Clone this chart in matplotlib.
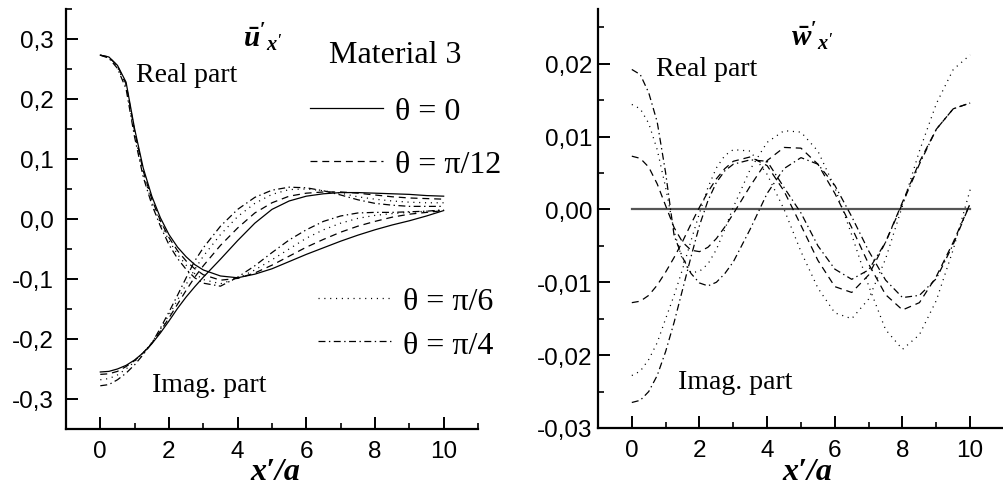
import matplotlib
matplotlib.use("Agg")
import matplotlib.pyplot as plt
from matplotlib.ticker import MultipleLocator, FuncFormatter

# Data
x = [0, 0.25, 0.5, 0.75, 1, 1.25, 1.5, 1.75, 2, 2.25, 2.5, 2.75, 3,
     3.5, 4, 4.5, 5, 5.5, 6, 6.5, 7, 7.5, 8, 8.5, 9, 9.5, 10]

theta_labels = ["θ = 0", "θ = π/12", "θ = π/6", "θ = π/4"]

# left panel: u'_x'
u_re_0 = [0.273, 0.270, 0.256, 0.228, 0.150, 0.085, 0.038, 0.002, -0.026, -0.047, -0.063, -0.076, -0.085,
          -0.095, -0.098, -0.092, -0.083, -0.071, -0.059, -0.048, -0.037, -0.027, -0.018, -0.010, -0.003, 0.005, 0.014]
u_re_12 = [0.273, 0.270, 0.255, 0.225, 0.146, 0.080, 0.033, -0.003, -0.031, -0.053, -0.070, -0.083, -0.093,
           -0.102, -0.099, -0.090, -0.077, -0.062, -0.047, -0.034, -0.022, -0.012, -0.004, 0.003, 0.008, 0.011, 0.014]
u_re_6 = [0.273, 0.269, 0.253, 0.221, 0.141, 0.075, 0.029, -0.007, -0.036, -0.059, -0.077, -0.091, -0.101,
          -0.108, -0.099, -0.085, -0.068, -0.050, -0.032, -0.018, -0.007, 0.001, 0.006, 0.009, 0.011, 0.013, 0.015]
u_re_4 = [0.273, 0.268, 0.251, 0.217, 0.136, 0.070, 0.024, -0.012, -0.043, -0.066, -0.084, -0.098, -0.107,
          -0.112, -0.097, -0.078, -0.056, -0.035, -0.018, -0.004, 0.005, 0.010, 0.011, 0.011, 0.012, 0.013, 0.015]

u_im_0 = [-0.255, -0.254, -0.250, -0.244, -0.235, -0.223, -0.208, -0.190, -0.170, -0.149, -0.130, -0.113, -0.097,
          -0.067, -0.036, -0.007, 0.016, 0.030, 0.038, 0.042, 0.044, 0.044, 0.043, 0.042, 0.041, 0.039, 0.038]
u_im_12 = [-0.259, -0.258, -0.254, -0.246, -0.236, -0.223, -0.207, -0.187, -0.165, -0.142, -0.119, -0.097, -0.078,
           -0.044, -0.015, 0.010, 0.027, 0.038, 0.043, 0.045, 0.045, 0.043, 0.040, 0.037, 0.035, 0.034, 0.033]
u_im_6 = [-0.268, -0.266, -0.260, -0.250, -0.238, -0.223, -0.206, -0.184, -0.160, -0.135, -0.109, -0.084, -0.062,
          -0.026, 0.004, 0.026, 0.041, 0.049, 0.050, 0.047, 0.043, 0.037, 0.033, 0.030, 0.028, 0.027, 0.027]
u_im_4 = [-0.278, -0.276, -0.268, -0.257, -0.243, -0.226, -0.207, -0.182, -0.155, -0.127, -0.098, -0.070, -0.048,
          -0.012, 0.016, 0.036, 0.048, 0.053, 0.052, 0.047, 0.040, 0.032, 0.026, 0.023, 0.021, 0.021, 0.021]

# right panel: w'_x'
w_0 = [0.0] * len(x)
w_re_12 = [0.0073, 0.0070, 0.0058, 0.0035, 0.0005, -0.0025, -0.0045, -0.0056, -0.0058, -0.0052, -0.0040, -0.0024, -0.0006,
           0.0032, 0.0067, 0.0085, 0.0084, 0.0062, 0.0022, -0.0025, -0.0075, -0.0117, -0.0138, -0.0128, -0.0092, -0.0045, 0.0008]
w_re_6 = [0.0144, 0.0138, 0.0118, 0.0082, 0.0030, -0.0030, -0.0070, -0.0087, -0.0085, -0.0075, -0.0055, -0.0027, 0.0003,
          0.0055, 0.0092, 0.0108, 0.0106, 0.0080, 0.0030, -0.0035, -0.0105, -0.0165, -0.0192, -0.0172, -0.0125, -0.0055, 0.0027]
w_re_4 = [0.0192, 0.0185, 0.0160, 0.0120, 0.0050, -0.0036, -0.0066, -0.0088, -0.0101, -0.0105, -0.0100, -0.0088, -0.0072,
          -0.0027, 0.0022, 0.0056, 0.0071, 0.0062, 0.0033, -0.0010, -0.0057, -0.0097, -0.0121, -0.0118, -0.0095, -0.0048, 0.0008]

w_im_12 = [-0.0128, -0.0126, -0.0118, -0.0104, -0.0086, -0.0066, -0.0044, -0.0020, 0.0003, 0.0024, 0.0042, 0.0056, 0.0066,
           0.0072, 0.0060, 0.0025, -0.0022, -0.0070, -0.0106, -0.0114, -0.0090, -0.0045, 0.0010, 0.0065, 0.0110, 0.0138, 0.0146]
w_im_6 = [-0.0228, -0.0222, -0.0206, -0.0183, -0.0150, -0.0118, -0.0082, -0.0043, -0.0005, 0.0030, 0.0057, 0.0074, 0.0082,
          0.0080, 0.0048, 0.0000, -0.0058, -0.0108, -0.0142, -0.0150, -0.0123, -0.0068, 0.0005, 0.0080, 0.0145, 0.0192, 0.0212]
w_im_4 = [-0.0265, -0.0262, -0.0250, -0.0228, -0.0195, -0.0155, -0.0110, -0.0065, -0.0022, 0.0012, 0.0037, 0.0053, 0.0062,
          0.0068, 0.0066, 0.0030, -0.0005, -0.0050, -0.0082, -0.0096, -0.0083, -0.0045, 0.0008, 0.0062, 0.0110, 0.0138, 0.0146]

plt.rcParams['font.family'] = 'Liberation Sans'
plt.rcParams['mathtext.fontset'] = 'custom'
plt.rcParams['mathtext.it'] = 'Liberation Serif:italic:bold'
plt.rcParams['mathtext.rm'] = 'Liberation Serif:bold'
plt.rcParams['mathtext.bf'] = 'Liberation Serif:bold'
plt.rcParams['lines.scale_dashes'] = False

# line styles for theta = 0, pi/12, pi/6, pi/4
styles = ['-', (0, (5, 3.5)), (0, (0.8, 3.4)), (0, (5, 2.5, 1, 2.5))]
lw = 0.9
serif = ['Liberation Serif', 'DejaVu Serif']

fig = plt.figure(figsize=(10.04, 4.89), dpi=100)
ax1 = fig.add_axes([0.0657, 0.1207, 0.4104, 0.8589])
ax2 = fig.add_axes([0.5956, 0.1227, 0.4044, 0.8569])


def comma(fmt):
    def f(v, pos):
        if abs(v) < 1e-9:
            v = 0.0
        return fmt.format(v).replace('.', ',')
    return FuncFormatter(f)


for ax in (ax1, ax2):
    ax.spines['top'].set_visible(False)
    ax.spines['right'].set_visible(False)
    ax.spines['left'].set_linewidth(1.6)
    ax.spines['bottom'].set_linewidth(1.6)
    ax.set_xlim(-1, 11)
    ax.xaxis.set_major_locator(MultipleLocator(2))
    ax.xaxis.set_minor_locator(MultipleLocator(1))
    ax.tick_params(which='major', direction='in', length=8.5, width=1.4, labelsize=17.5)
    ax.tick_params(which='minor', direction='in', length=4, width=1.2)
    ax.tick_params(axis='x', which='major', pad=8)

# Left panel
re_u = [u_re_0, u_re_12, u_re_6, u_re_4]
im_u = [u_im_0, u_im_12, u_im_6, u_im_4]
handles = []
for i in range(4):
    h, = ax1.plot(x, re_u[i], color='black', linestyle=styles[i], linewidth=lw)
    ax1.plot(x, im_u[i], color='black', linestyle=styles[i], linewidth=lw)
    handles.append(h)

ax1.set_ylim(-0.35, 0.35)
ax1.yaxis.set_major_locator(MultipleLocator(0.1))
ax1.yaxis.set_minor_locator(MultipleLocator(0.05))
ax1.yaxis.set_major_formatter(comma("{:.1f}"))
ax1.tick_params(axis='y', which='major', pad=9)

# Right panel
ax2.plot(x, w_0, color='#555555', linewidth=1.6)
re_w = [w_re_12, w_re_6, w_re_4]
im_w = [w_im_12, w_im_6, w_im_4]
for i in range(3):
    ax2.plot(x, re_w[i], color='black', linestyle=styles[i + 1], linewidth=lw)
    ax2.plot(x, im_w[i], color='black', linestyle=styles[i + 1], linewidth=lw)

ax2.set_ylim(-0.03, 0.0275)
ax2.yaxis.set_major_locator(MultipleLocator(0.01))
ax2.yaxis.set_minor_locator(MultipleLocator(0.005))
ax2.yaxis.set_major_formatter(comma("{:.2f}"))
ax2.tick_params(axis='y', which='major', pad=4)

# Legends (two groups, as in the original)
leg_kw = dict(frameon=False, handlelength=2.29, handletextpad=0.38, borderpad=0,
              borderaxespad=0, prop={'family': serif, 'size': 23},
              bbox_transform=fig.transFigure, loc='center left')
leg1 = ax1.legend(handles[:2], theta_labels[:2], labelspacing=0.72,
                  bbox_to_anchor=(310 / 1004, 1 - 139 / 489), **leg_kw)
ax1.add_artist(leg1)
leg2 = ax1.legend(handles[2:], theta_labels[2:], labelspacing=0.45,
                  bbox_to_anchor=(318 / 1004, 1 - 324 / 489), **leg_kw)

# Texts
fig.text(0.262, 0.924, r"$\bar{u}'_{x'}$", fontsize=21, ha='center', va='center')
fig.text(0.3934, 0.886, "Material 3", family=serif, fontsize=23, ha='center', va='center')
fig.text(0.1858, 0.832, "Real part", family=serif, fontsize=20, ha='center', va='baseline')
fig.text(0.2087, 0.198, "Imag. part", family=serif, fontsize=20, ha='center', va='baseline')
fig.text(0.274, 0.033, "x′/a", family=serif, style='italic', weight='bold',
         fontsize=23, ha='center', va='center')

fig.text(0.8088, 0.926, r"$\bar{w}'_{x'}$", fontsize=21, ha='center', va='center')
fig.text(0.7037, 0.8446, "Real part", family=serif, fontsize=20, ha='center', va='baseline')
fig.text(0.7326, 0.2045, "Imag. part", family=serif, fontsize=20, ha='center', va='baseline')
fig.text(0.804, 0.033, "x′/a", family=serif, style='italic', weight='bold',
         fontsize=23, ha='center', va='center')

fig.savefig("out.png", dpi=100)
